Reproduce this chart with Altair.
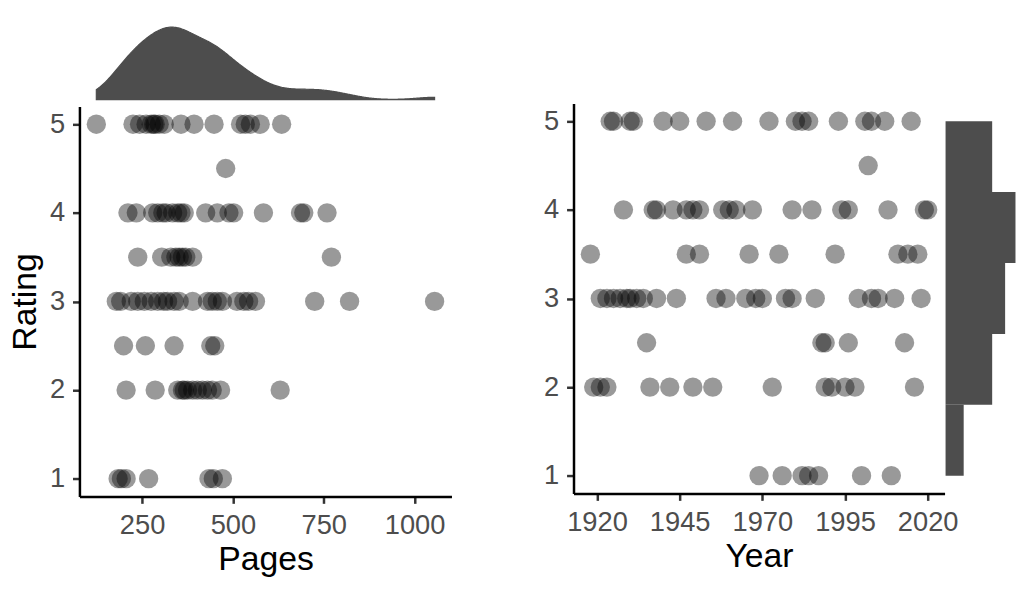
import altair as alt
import pandas as pd
import numpy as np

# ---- data (per rating: pages list and year list) ----
pages_5 = [124, 225, 243, 261, 275, 282, 286, 297, 311, 357, 393, 448, 521, 534, 548, 575, 634]
years_5 = [1924, 1925, 1930, 1931, 1940, 1945, 1953, 1961, 1972, 1980, 1982, 1984, 1993, 2001, 2003, 2007, 2015]

pages_45 = [480]
years_45 = [2002]

pages_4 = [211, 234, 279, 293, 307, 316, 334, 348, 357, 366, 425, 457, 489, 502, 584, 686, 695, 759]
years_4 = [1928, 1937, 1938, 1943, 1947, 1949, 1951, 1958, 1960, 1962, 1967, 1979, 1985, 1994, 1996, 2008, 2019, 2020]

pages_35 = [238, 304, 329, 343, 352, 361, 370, 389, 771]
years_35 = [1918, 1947, 1951, 1966, 1975, 1992, 2011, 2014, 2017]

pages_3 = [179, 191, 220, 238, 256, 275, 293, 309, 320, 338, 352, 389, 430, 443, 457, 471, 511, 530, 543, 562, 725, 821, 1055]
years_3 = [1921, 1923, 1925, 1927, 1929, 1930, 1932, 1934, 1938, 1944, 1956, 1959, 1965, 1968, 1970, 1977, 1979, 1986, 1999, 2003, 2005, 2010, 2018]

pages_25 = [199, 259, 338, 439, 450]
years_25 = [1935, 1988, 1989, 1996, 2013]

pages_2 = [206, 286, 348, 361, 366, 375, 389, 402, 416, 430, 443, 466, 630]
years_2 = [1919, 1921, 1923, 1936, 1942, 1949, 1955, 1973, 1989, 1991, 1995, 1998, 2016]

pages_1 = [184, 193, 206, 268, 434, 446, 471]
years_1 = [1969, 1976, 1982, 1984, 1987, 2000, 2009]

rating_levels = [5, 4.5, 4, 3.5, 3, 2.5, 2, 1]
pages_lists = [pages_5, pages_45, pages_4, pages_35, pages_3, pages_25, pages_2, pages_1]
years_lists = [years_5, years_45, years_4, years_35, years_3, years_25, years_2, years_1]

pages_ticks = [250, 500, 750, 1000]
year_ticks = [1920, 1945, 1970, 1995, 2020]
rating_ticks = [1, 2, 3, 4, 5]

rows = []
for r, pl, yl in zip(rating_levels, pages_lists, years_lists):
    for p, y in zip(pl, yl):
        rows.append({"rating": r, "pages": p, "year": y})
df = pd.DataFrame(rows)

# histogram bins of rating (5 bins from 1 to 5)
edges = np.linspace(1, 5, 6)
idx = np.clip(np.floor((df["rating"].values - 1) / 0.8 + 1e-9).astype(int), 0, 4)
counts = np.bincount(idx, minlength=5)
hist_df = pd.DataFrame({"start": edges[:-1], "end": edges[1:], "count": counts, "zero": 0})

# density bandwidth (R's bw.nrd0)
pv = df["pages"].values.astype(float)
iqr = np.subtract(*np.percentile(pv, [75, 25]))
bw = 0.9 * min(pv.std(ddof=1), iqr / 1.34) * len(pv) ** (-0.2)

FONT = "Liberation Sans"
DARK = "#4d4d4d"

pages_scale = alt.Scale(domain=[77.5, 1101.5], nice=False, zero=False)
year_scale = alt.Scale(domain=[1912.9, 2025.1], nice=False, zero=False)
rating_scale = alt.Scale(domain=[0.8, 5.2], nice=False, zero=False)

PW, PH = 375, 393

density = (
    alt.Chart(df)
    .transform_density("pages", as_=["pages", "density"], bandwidth=float(bw),
                       extent=[float(pv.min()), float(pv.max())], steps=400)
    .mark_area(color=DARK, stroke=DARK, strokeWidth=1.2)
    .encode(
        x=alt.X("pages:Q", scale=pages_scale, axis=None),
        y=alt.Y("density:Q", scale=alt.Scale(nice=False, zero=True), axis=None),
    )
    .properties(width=PW, height=73)
)

left = (
    alt.Chart(df)
    .mark_circle(size=380, opacity=0.4, color="black")
    .encode(
        x=alt.X("pages:Q", scale=pages_scale,
                axis=alt.Axis(values=pages_ticks, title="Pages", format="d")),
        y=alt.Y("rating:Q", scale=rating_scale, axis=alt.Axis(values=rating_ticks, title="Rating")),
    )
    .properties(width=PW, height=PH)
)

right = (
    alt.Chart(df)
    .mark_circle(size=380, opacity=0.4, color="black")
    .encode(
        x=alt.X("year:Q", scale=year_scale, axis=alt.Axis(values=year_ticks, title="Year", format="d")),
        y=alt.Y("rating:Q", scale=rating_scale, axis=alt.Axis(values=rating_ticks, title=None)),
    )
    .properties(width=374, height=PH)
)

hist = (
    alt.Chart(hist_df)
    .mark_rect(color=DARK)
    .encode(
        y=alt.Y("start:Q", scale=rating_scale, axis=None),
        y2="end:Q",
        x=alt.X("zero:Q", scale=alt.Scale(domain=[0, 27.2], nice=False, zero=True), axis=None),
        x2="count:Q",
    )
    .properties(width=71, height=PH)
)

spacer = (
    alt.Chart(pd.DataFrame({"a": [0]}))
    .mark_point(opacity=0)
    .encode(x=alt.value(5), y=alt.value(40))
    .properties(width=10, height=73)
)

left_col = alt.vconcat(density, left, spacing=4)
right_row = alt.hconcat(right, hist, spacing=1, bounds="flush")
right_col = alt.vconcat(spacer, right_row, spacing=4)

chart = (
    alt.hconcat(left_col, right_col, spacing=92)
    .properties(padding={"left": 0, "top": 14, "right": 0, "bottom": 0})
    .configure_view(strokeWidth=0)
    .configure_axis(
        grid=False,
        domainColor="black",
        domainWidth=2.5,
        tickColor="#333333",
        tickWidth=2.5,
        tickSize=7,
        labelColor=DARK,
        labelFont=FONT,
        labelFontSize=27.5,
        titleFont=FONT,
        titleFontSize=34,
        titleFontWeight="normal",
        titleColor="black",
    )
    .configure_axisX(labelPadding=8, titlePadding=4)
    .configure_axisY(labelPadding=8, titlePadding=7)
)

chart.save("out.html", embed_options={"renderer": "svg", "actions": False})
